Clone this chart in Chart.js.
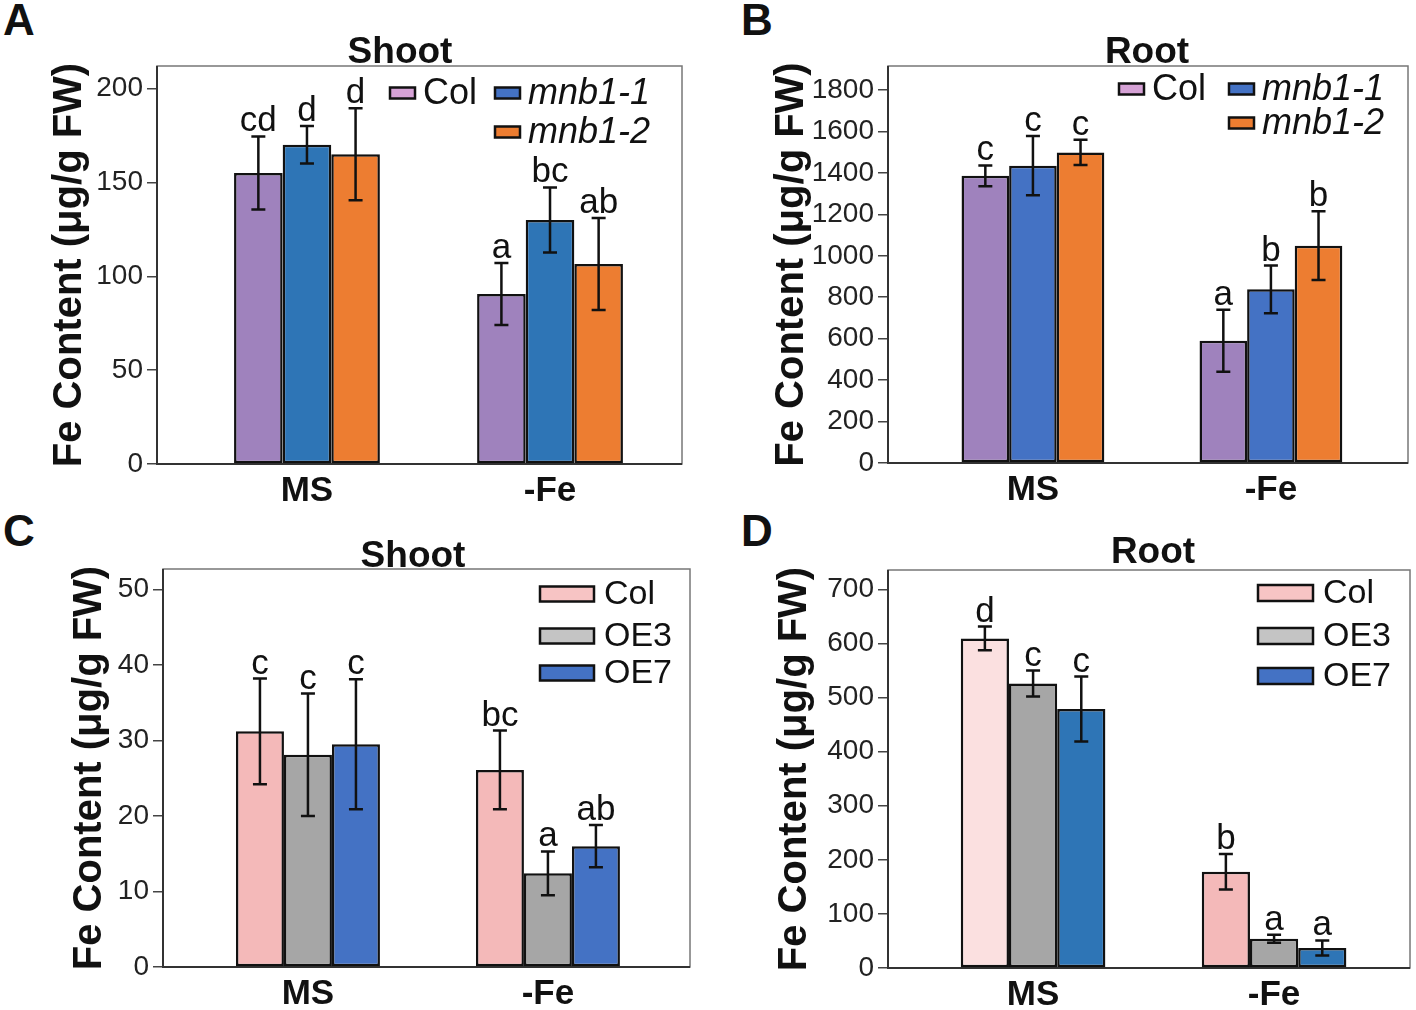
<!DOCTYPE html>
<html>
<head>
<meta charset="utf-8">
<title>Fe content</title>
<script src="https://cdn.jsdelivr.net/npm/chart.js@4.4.1/dist/chart.umd.min.js"></script>
<style>
  html, body { margin: 0; padding: 0; background: #fff; }
  body { width: 1416px; height: 1010px; position: relative; overflow: hidden; }
  .panel { position: absolute; width: 708px; height: 505px; }
  .tag { position: absolute; font: bold 44px 'Liberation Sans', Arial, sans-serif; line-height: 1; color: #111; }
</style>
</head>
<body>
<div class="tag" style="left:3px;top:-2px">A</div>
<div class="tag" style="left:741px;top:-2px">B</div>
<div class="tag" style="left:3px;top:509px">C</div>
<div class="tag" style="left:741px;top:509px">D</div>
<div class="panel" style="left:0;top:0"><canvas id="chartA"></canvas></div>
<div class="panel" style="left:708px;top:0"><canvas id="chartB"></canvas></div>
<div class="panel" style="left:0;top:505px"><canvas id="chartC"></canvas></div>
<div class="panel" style="left:708px;top:505px"><canvas id="chartD"></canvas></div>
<script>
// Data
const groups = ['MS', '-Fe'];
const mutantNames = ['Col', 'mnb1-1', 'mnb1-2'];
const oeNames = ['Col', 'OE3', 'OE7'];

// A - shoot, mutants
const shootMutCol = [155, 90.5];
const shootMnb11 = [170, 130];
const shootMnb12 = [165, 106.5];
const shootMutColErr = [19.5, 16.5];
const shootMnb11Err = [10, 17.3];
const shootMnb12Err = [24.5, 24.5];
const shootMutColSig = ['cd', 'a'];
const shootMnb11Sig = ['d', 'bc'];
const shootMnb12Sig = ['d', 'ab'];
const shootMutTicks = [0, 50, 100, 150, 200];

// B - root, mutants
const rootMutCol = [1386, 590];
const rootMnb11 = [1435, 838];
const rootMnb12 = [1499, 1049];
const rootMutColErr = [50, 150];
const rootMnb11Err = [143, 115];
const rootMnb12Err = [61, 166];
const rootMutColSig = ['c', 'a'];
const rootMnb11Sig = ['c', 'b'];
const rootMnb12Sig = ['c', 'b'];
const rootMutTicks = [0, 200, 400, 600, 800, 1000, 1200, 1400, 1600, 1800];

// C - shoot, overexpression
const shootOeCol = [31.2, 26.1];
const shootOE3 = [28.1, 12.4];
const shootOE7 = [29.5, 16.0];
const shootOeColErr = [7, 5.2];
const shootOE3Err = [8.1, 2.9];
const shootOE7Err = [8.6, 2.8];
const shootOeColSig = ['c', 'bc'];
const shootOE3Sig = ['c', 'a'];
const shootOE7Sig = ['c', 'ab'];
const shootOeTicks = [0, 10, 20, 30, 40, 50];

// D - root, overexpression
const rootOeCol = [609.5, 178];
const rootOE3 = [526, 54];
const rootOE7 = [479, 37];
const rootOeColErr = [22, 33];
const rootOE3Err = [24, 7.5];
const rootOE7Err = [60, 14];
const rootOeColSig = ['d', 'b'];
const rootOE3Sig = ['c', 'a'];
const rootOE7Sig = ['c', 'a'];
const rootOeTicks = [0, 100, 200, 300, 400, 500, 600, 700];

const FONT = "'Liberation Sans', Arial, sans-serif";
Chart.defaults.font.family = FONT;
Chart.defaults.color = '#111';

const W = 708, H = 505;

function makePanel(id, cfg) {
  const decor = {
    id: 'decor',
    beforeDatasetsDraw(chart) {
      const { ctx, chartArea: a } = chart;
      ctx.save();
      ctx.strokeStyle = '#777';
      ctx.lineWidth = 1.5;
      ctx.strokeRect(a.left, a.top, a.right - a.left, a.bottom - a.top);
      ctx.strokeStyle = '#333';
      ctx.lineWidth = 2;
      ctx.beginPath();
      ctx.moveTo(a.left, a.top);
      ctx.lineTo(a.left, a.bottom);
      ctx.lineTo(a.right, a.bottom);
      ctx.stroke();
      ctx.restore();
    },
    afterDatasetsDraw(chart) {
      const { ctx } = chart;
      const y = chart.scales.y;
      ctx.save();
      ctx.strokeStyle = '#111';
      ctx.fillStyle = '#111';
      ctx.lineWidth = 2.5;
      ctx.font = '35px ' + FONT;
      ctx.textAlign = 'center';
      ctx.textBaseline = 'alphabetic';
      cfg.series.forEach((s, i) => {
        chart.getDatasetMeta(i).data.forEach((bar, j) => {
          const top = y.getPixelForValue(s.values[j] + s.errors[j]);
          const bot = y.getPixelForValue(s.values[j] - s.errors[j]);
          ctx.beginPath();
          ctx.moveTo(bar.x, top); ctx.lineTo(bar.x, bot);
          ctx.moveTo(bar.x - 7, top); ctx.lineTo(bar.x + 7, top);
          ctx.moveTo(bar.x - 7, bot); ctx.lineTo(bar.x + 7, bot);
          ctx.stroke();
          ctx.fillText(s.letters[j], bar.x, top - 5);
        });
      });
      ctx.restore();
    },
    afterDraw(chart) {
      const { ctx, chartArea: a } = chart;
      ctx.save();
      // panel title
      ctx.fillStyle = '#111';
      ctx.font = 'bold 37px ' + FONT;
      ctx.textAlign = 'center';
      ctx.textBaseline = 'alphabetic';
      ctx.fillText(cfg.title, cfg.titleX, cfg.titleY);
      // legend
      const lg = cfg.legend;
      ctx.textAlign = 'left';
      ctx.textBaseline = 'middle';
      lg.items.forEach(it => {
        const s = cfg.series[it.series];
        const sx = a.right - it.dx, sy = a.top + it.dy;
        ctx.fillStyle = s.legendColor;
        ctx.fillRect(sx, sy - lg.sh / 2, lg.sw, lg.sh);
        ctx.strokeStyle = '#111';
        ctx.lineWidth = 2.5;
        ctx.strokeRect(sx, sy - lg.sh / 2, lg.sw, lg.sh);
        ctx.fillStyle = '#111';
        ctx.font = (s.italic ? 'italic ' : '') + lg.size + 'px ' + FONT;
        ctx.fillText(s.name, sx + lg.sw + lg.gap, sy + 1);
      });
      ctx.restore();
    }
  };

  return new Chart(document.getElementById(id), {
    type: 'bar',
    data: {
      datasets: cfg.series.map(s => ({
        label: s.name,
        data: groups.map((g, i) => ({ x: i + 1, y: s.values[i] })),
        backgroundColor: s.colors,
        borderColor: '#111',
        borderWidth: 2.5,
        borderSkipped: false,
        categoryPercentage: 0.6,
        barPercentage: 1
      }))
    },
    options: {
      responsive: true,
      maintainAspectRatio: false,
      animation: false,
      layout: { padding: { left: 0, top: cfg.area.top, right: W - cfg.area.right, bottom: 0 } },
      plugins: { legend: { display: false }, tooltip: { enabled: false }, title: { display: false } },
      scales: {
        x: {
          type: 'linear',
          offset: false,
          min: cfg.xMin,
          max: cfg.xMax,
          afterBuildTicks: s => { s.ticks = groups.map((g, i) => ({ value: i + 1 })); },
          ticks: {
            callback: v => groups[v - 1],
            font: { size: 35, weight: 'bold' },
            color: '#111',
            padding: -2,
            maxRotation: 0,
            autoSkip: false
          },
          grid: { display: false, offset: false },
          border: { display: false },
          afterFit: s => { s.height = H - cfg.area.bottom; }
        },
        y: {
          min: 0,
          max: cfg.yMax,
          afterBuildTicks: s => { s.ticks = cfg.ticks.map(v => ({ value: v })); },
          ticks: { font: { size: 28 }, color: '#222', padding: 4, callback: v => String(v) },
          grid: { drawOnChartArea: false, tickLength: 10, color: '#444', lineWidth: 1.5 },
          border: { display: false },
          title: {
            display: true,
            text: 'Fe Content (μg/g FW)',
            font: { size: 40, weight: 'bold' },
            color: '#111',
            padding: { top: cfg.yTitleX - 24, bottom: 0 }
          },
          afterFit: s => { s.width = cfg.area.left; }
        }
      }
    },
    plugins: [decor]
  });
}

const mutLegendA = { size: 36, sw: 25, sh: 11, gap: 8, items: [
  { series: 0, dx: 292, dy: 27 }, { series: 1, dx: 187, dy: 27 }, { series: 2, dx: 187, dy: 66 }] };
const mutLegendB = { size: 36, sw: 25, sh: 11, gap: 8, items: [
  { series: 0, dx: 289, dy: 23 }, { series: 1, dx: 179, dy: 23 }, { series: 2, dx: 179, dy: 57 }] };
const oeLegendC = { size: 34, sw: 54, sh: 15, gap: 10, items: [
  { series: 0, dx: 150, dy: 25 }, { series: 1, dx: 150, dy: 67 }, { series: 2, dx: 150, dy: 104 }] };
const oeLegendD = { size: 34, sw: 55, sh: 16, gap: 10, items: [
  { series: 0, dx: 152, dy: 23 }, { series: 1, dx: 152, dy: 66 }, { series: 2, dx: 152, dy: 106 }] };

makePanel('chartA', {
  title: 'Shoot', titleX: 400, titleY: 63, yTitleX: 70,
  area: { left: 157, top: 66, right: 682, bottom: 464 },
  xMin: 0.383, xMax: 2.543, yMax: 212, ticks: shootMutTicks,
  legend: mutLegendA,
  series: [
    { name: mutantNames[0], values: shootMutCol, errors: shootMutColErr, letters: shootMutColSig, colors: '#9f82bd', legendColor: '#d6a2d6' },
    { name: mutantNames[1], values: shootMnb11, errors: shootMnb11Err, letters: shootMnb11Sig, colors: '#2e75b6', legendColor: '#4472c4', italic: true },
    { name: mutantNames[2], values: shootMnb12, errors: shootMnb12Err, letters: shootMnb12Sig, colors: '#ed7d31', legendColor: '#ed7d31', italic: true }
  ]
});

makePanel('chartB', {
  title: 'Root', titleX: 439, titleY: 63, yTitleX: 84,
  area: { left: 180, top: 66, right: 700, bottom: 463 },
  xMin: 0.391, xMax: 2.576, yMax: 1916, ticks: rootMutTicks,
  legend: mutLegendB,
  series: [
    { name: mutantNames[0], values: rootMutCol, errors: rootMutColErr, letters: rootMutColSig, colors: '#9f82bd', legendColor: '#d6a2d6' },
    { name: mutantNames[1], values: rootMnb11, errors: rootMnb11Err, letters: rootMnb11Sig, colors: '#4472c4', legendColor: '#4472c4', italic: true },
    { name: mutantNames[2], values: rootMnb12, errors: rootMnb12Err, letters: rootMnb12Sig, colors: '#ed7d31', legendColor: '#ed7d31', italic: true }
  ]
});

makePanel('chartC', {
  title: 'Shoot', titleX: 413, titleY: 62, yTitleX: 90,
  area: { left: 163, top: 64, right: 690, bottom: 462 },
  xMin: 0.396, xMax: 2.592, yMax: 52.7, ticks: shootOeTicks,
  legend: oeLegendC,
  series: [
    { name: oeNames[0], values: shootOeCol, errors: shootOeColErr, letters: shootOeColSig, colors: '#f4b9b9', legendColor: '#f7c4c4' },
    { name: oeNames[1], values: shootOE3, errors: shootOE3Err, letters: shootOE3Sig, colors: '#a6a6a6', legendColor: '#c4c4c4' },
    { name: oeNames[2], values: shootOE7, errors: shootOE7Err, letters: shootOE7Sig, colors: '#4472c4', legendColor: '#4472c4' }
  ]
});

makePanel('chartD', {
  title: 'Root', titleX: 445, titleY: 58, yTitleX: 87,
  area: { left: 180, top: 65, right: 702, bottom: 463 },
  xMin: 0.398, xMax: 2.564, yMax: 736, ticks: rootOeTicks,
  legend: oeLegendD,
  series: [
    { name: oeNames[0], values: rootOeCol, errors: rootOeColErr, letters: rootOeColSig, colors: ['#fbe0e0', '#f4b9b9'], legendColor: '#f7c4c4' },
    { name: oeNames[1], values: rootOE3, errors: rootOE3Err, letters: rootOE3Sig, colors: '#a6a6a6', legendColor: '#c4c4c4' },
    { name: oeNames[2], values: rootOE7, errors: rootOE7Err, letters: rootOE7Sig, colors: '#2e75b6', legendColor: '#4472c4' }
  ]
});
</script>
</body>
</html>
